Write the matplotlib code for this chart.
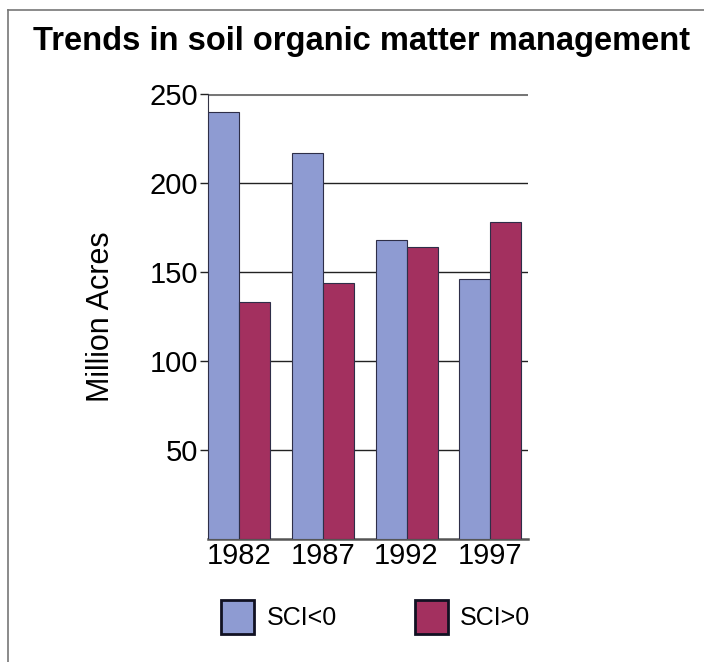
import matplotlib
matplotlib.use('Agg')
import matplotlib.pyplot as plt
import numpy as np
from matplotlib.lines import Line2D

# Data
years = ['1982', '1987', '1992', '1997']
sci_neg = [240, 217, 168, 146]
sci_pos = [133, 144, 164, 178]

blue = '#8e9bd2'
maroon = '#a3305f'
edge = '#2e2e48'

plt.rcParams['font.family'] = ['Liberation Sans', 'DejaVu Sans']

fig = plt.figure(figsize=(7.04, 6.62), dpi=100)
ax = fig.add_axes([0.2955, 0.1858, 0.4545, 0.672])

x = np.arange(len(years))
w = 0.37
ax.bar(x - w / 2, sci_neg, width=w, color=blue, edgecolor=edge, linewidth=0.8, label='SCI<0', zorder=3)
ax.bar(x + w / 2, sci_pos, width=w, color=maroon, edgecolor=edge, linewidth=0.8, label='SCI>0', zorder=3)

ax.set_xlim(-w, 3.45)
ax.set_ylim(0, 250)
ax.set_yticks([50, 100, 150, 200, 250])
ax.yaxis.grid(True, color='#222222', linewidth=1.0, zorder=0)
ax.set_axisbelow(True)
top_line = ax.get_ygridlines()[-1]
top_line.set_color('#777777')
top_line.set_linewidth(2.2)
ax.set_xticks(x)
ax.set_xticklabels(years)
ax.tick_params(axis='x', length=0, labelsize=21, pad=2)
ax.tick_params(axis='y', length=6, width=1, color='#222222', labelsize=21, pad=1)

for s in ['top', 'right']:
    ax.spines[s].set_visible(False)
ax.spines['left'].set_color('#333344')
ax.spines['bottom'].set_color('#555555')
ax.spines['bottom'].set_linewidth(1.8)

ax.set_ylabel('Million Acres', fontsize=22, labelpad=24)

fig.text(0.513, 0.937, 'Trends in soil organic matter management',
         fontsize=23.5, fontweight='bold', ha='center', va='center')

leg = fig.legend(loc='center', bbox_to_anchor=(0.534, 0.068), ncol=2, frameon=False,
                 fontsize=18, handlelength=1.32, handleheight=1.76, columnspacing=3.1,
                 handletextpad=0.5)
for p in leg.get_patches():
    p.set_edgecolor('#111122')
    p.set_linewidth(2)

# border lines
fig.add_artist(Line2D([8 / 704, 8 / 704], [0, 1 - 10 / 662], color='#777777', linewidth=1.2))
fig.add_artist(Line2D([8 / 704, 1], [1 - 10 / 662, 1 - 10 / 662], color='#777777', linewidth=1.2))

fig.savefig('out.png', dpi=100)
